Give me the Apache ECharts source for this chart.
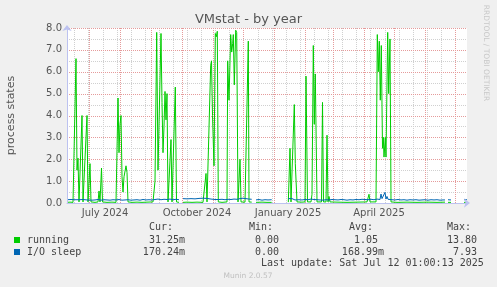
<!DOCTYPE html>
<html><head><meta charset="utf-8">
<script src="https://cdn.jsdelivr.net/npm/echarts@6/dist/echarts.min.js"></script>
<style>html,body{margin:0;padding:0;background:#f0f0f0}#c{width:497px;height:287px}</style>
</head><body><div id="c"></div>
<script>
// x values: days since start of the 400-day window (window starts ~9 Jun 2024)
const chartTitle = 'VMstat - by year';
const yName = 'process states';
const monthStartDays = [22,53,84,115,146,176,207,238,266,297,327,358,388];
const xLabelDays = [38, 130, 221, 312];
const xLabels = ['July 2024','October 2024','January 2025','April 2025'];
const running = [
[0,0.03],[3,0.04],[6,0.03],[8,0.05],[9,6.6],[10,1.5],[11,2.05],[12,0.05],[13,0.05],[15,4.0],[16,0.05],[17,0.05],[20,4.0],[21,0.05],[22,0.05],[23,1.8],[24,0.05],[28,0.03],[31,0.05],[32,0.55],[33,0.05],[34.5,1.6],[35.5,0.05],[40,0.03],[45,0.04],[49,0.03],[50,0.05],[51,4.8],[52,2.3],[53,3.6],[54,4.0],[55,1.2],[56,0.5],[57,1.2],[59,1.7],[60,1.4],[61,0.05],[65,0.03],[70,0.04],[75,0.03],[80,0.04],[86,0.05],[88,1.0],[89.7,7.8],[91,1.5],[94,7.75],[95,4.6],[96,2.3],[97,3.5],[98,5.1],[99,3.8],[100,5.0],[101,0.05],[102,0.05],[104,2.9],[105,0.05],[107,0.05],[108.3,5.3],[109.5,0.05],[112,0.03],[113,null],[116,0.03],[120,0.04],[125,0.03],[130,0.04],[136,0.03],[138,0.05],[139,1.35],[140,0.05],[142,0.05],[143.7,6.3],[144.5,6.5],[145.5,4.0],[147,1.7],[148.3,7.75],[149.3,7.6],[150.3,7.85],[151.3,0.05],[155,0.03],[160,0.05],[160.7,6.5],[162,4.7],[163.7,7.7],[164.7,6.9],[165.7,7.3],[166.3,7.7],[167.3,5.4],[168.7,7.9],[169.7,7.8],[171,0.05],[172,0.05],[173,2.0],[174,0.05],[178,0.04],[180,0.05],[181.3,7.4],[182,0.05],[184.7,0.04],[185,null],[189,0.03],[195,0.04],[200,0.03],[204.7,0.03],[205,null],[221.3,0.04],[222,0.05],[223,2.5],[224,0.05],[226,0.05],[227.3,4.5],[228.3,1.8],[229,1.85],[230,0.05],[235,0.04],[238,0.05],[239,5.8],[240.5,0.05],[244,0.05],[245,0.4],[246.3,7.2],[247.3,3.6],[248.3,5.9],[250,0.05],[254.5,0.05],[255.5,4.6],[256.5,0.05],[259,0.05],[260,3.1],[261,0.05],[262,0.3],[263,0.05],[270,0.04],[280,0.03],[290,0.04],[300,0.05],[302,0.4],[303,0.05],[309,0.05],[310.3,7.7],[311.3,6.0],[312.3,7.4],[313.3,4.7],[314.3,7.2],[315.5,2.5],[316.3,3.0],[317,2.1],[318.3,3.0],[319,2.1],[320.7,7.8],[321.7,5.0],[323,7.5],[324,0.05],[330,0.03],[340,0.04],[350,0.03],[360,0.04],[370,0.03],[378,0.04],[378.5,null],[381,0.03],[384,0.03],[384.5,null],[397,0.03],[400,0.03]
];
const ioSleep = [
[0,0.15],[2,0.13],[4,0.16],[6,0.14],[8,0.15],[10,0.12],[12,0.15],[14,0.14],[16,0.16],[18,0.13],[20,0.14],[22,0.15],[25,0.13],[28,0.14],[31,0.16],[34,0.13],[37,0.15],[40,0.14],[43,0.13],[46,0.15],[49,0.14],[52,0.16],[55,0.13],[58,0.14],[61,0.15],[64,0.13],[67,0.14],[70,0.15],[73,0.13],[76,0.16],[79,0.14],[82,0.15],[85,0.14],[88,0.16],[91,0.18],[94,0.15],[97,0.17],[100,0.16],[103,0.18],[106,0.15],[109,0.17],[112,0.15],[113,null],
[116,0.2],[118,0.22],[120,0.19],[122,0.21],[124,0.2],[126,0.22],[128,0.19],[130,0.2],[132,0.21],[134,0.19],[136,0.22],[138,0.2],[140,0.21],[142,0.19],[144,0.18],[146,0.17],[148,0.16],[150,0.18],[152,0.16],[155,0.17],[158,0.15],[161,0.17],[164,0.16],[167,0.18],[170,0.17],[173,0.2],[176,0.22],[179,0.2],[182,0.18],[184.7,0.17],[185,null],
[189,0.14],[192,0.16],[195,0.13],[198,0.15],[201,0.14],[204.7,0.15],[205,null],
[221.3,0.2],[223,0.22],[225,0.2],[226,0.12],[228,0.14],[230,0.13],[232,0.15],[235,0.14],[238,0.16],[241,0.15],[244,0.18],[247,0.16],[250,0.15],[253,0.14],[256,0.13],[259,0.15],[262,0.14],[265,0.16],[268,0.15],[271,0.14],[274,0.16],[277,0.15],[280,0.13],[283,0.15],[286,0.14],[289,0.16],[292,0.15],[295,0.17],[298,0.16],[301,0.15],[304,0.17],[307,0.15],[310,0.18],[312,0.22],[313,0.16],[314,0.41],[315,0.2],[316,0.28],[317,0.16],[318,0.49],[319,0.18],[320,0.3],[321,0.17],[323,0.2],[325,0.15],[328,0.14],[331,0.16],[334,0.14],[337,0.15],[340,0.13],[343,0.15],[346,0.14],[349,0.15],[352,0.13],[355,0.14],[358,0.15],[361,0.13],[364,0.15],[367,0.14],[370,0.15],[373,0.13],[376,0.14],[378,0.14],[378.5,null],
[381,0.15],[384,0.14],[384.5,null],[397,0.15],[400,0.15]
];
const legendNames = ['running','I/O sleep'];
const legendColors = ['#00cc00','#0066b3'];
const legendCur = ['31.25m','170.24m'];
const legendMin = ['0.00 ','0.00 '];
const legendAvg = ['1.05 ','168.99m'];
const legendMax = ['13.80','7.93'];
const lastUpdate = 'Last update: Sat Jul 12 01:00:13 2025';
const footer = 'Munin 2.0.57';
const sideText = 'RRDTOOL / TOBI OETIKER';

// grid-line positions (layout only)
const minorDays = [];
for (let d = 7.3; d < 400; d += 14.1) minorDays.push(Math.round(d));
const yMajor = [1,2,3,4,5,6,7,8];
const yMinor = [0.5,1.5,2.5,3.5,4.5,5.5,6.5,7.5];

const axisColor = '#bcc2f0';
const red = '#e59b9b';
const grey = '#d0d0d0';
const txt = '#555';
const mono = '10px "DejaVu Sans Mono"';

const chart = echarts.init(document.getElementById('c'), null, {renderer: 'canvas'});
const texts = [
  {type:'text', x:248.5, y:19.5, style:{text:chartTitle, font:'13px "DejaVu Sans"', fill:txt, textAlign:'center', textVerticalAlign:'middle'}},
  {type:'text', x:486, y:53, rotation:-Math.PI/2, style:{text:sideText, font:'7.5px "DejaVu Sans"', fill:'#c8c8c8', textAlign:'center', textVerticalAlign:'middle'}},
  {type:'text', x:149, y:227, style:{text:'Cur:', font:mono, fill:'#444', textVerticalAlign:'middle'}},
  {type:'text', x:249, y:227, style:{text:'Min:', font:mono, fill:'#444', textVerticalAlign:'middle'}},
  {type:'text', x:349, y:227, style:{text:'Avg:', font:mono, fill:'#444', textVerticalAlign:'middle'}},
  {type:'text', x:447, y:227, style:{text:'Max:', font:mono, fill:'#444', textVerticalAlign:'middle'}},
  {type:'text', x:261, y:263, style:{text:lastUpdate, font:mono, fill:'#444', textVerticalAlign:'middle'}},
  {type:'text', x:248, y:276, style:{text:footer, font:'7.5px "DejaVu Sans"', fill:'#c0c0c0', textAlign:'center', textVerticalAlign:'middle'}}
];
legendNames.forEach((n, i) => {
  const y = 240 + i * 12;
  texts.push({type:'rect', shape:{x:14, y:y-3, width:6, height:6}, style:{fill:legendColors[i]}});
  texts.push({type:'text', x:27, y:y, style:{text:n, font:mono, fill:'#444', textVerticalAlign:'middle'}});
  texts.push({type:'text', x:185, y:y, style:{text:legendCur[i], font:mono, fill:'#444', textAlign:'right', textVerticalAlign:'middle'}});
  texts.push({type:'text', x:285, y:y, style:{text:legendMin[i], font:mono, fill:'#444', textAlign:'right', textVerticalAlign:'middle'}});
  texts.push({type:'text', x:384, y:y, style:{text:legendAvg[i], font:mono, fill:'#444', textAlign:'right', textVerticalAlign:'middle'}});
  texts.push({type:'text', x:477, y:y, style:{text:legendMax[i], font:mono, fill:'#444', textAlign:'right', textVerticalAlign:'middle'}});
});

const option = {
  animation: false,
  backgroundColor: '#f0f0f0',
  textStyle: {fontFamily: '"DejaVu Sans"'},
  grid: {left:67, top:28, width:400, height:175, show:true, backgroundColor:'#ffffff', borderWidth:0, containLabel:false, outerBoundsMode:'none'},
  xAxis: [
    {type:'value', min:0, max:400, position:'bottom', z:6,
     axisLine:{show:true, lineStyle:{color:axisColor, width:1}, symbol:['none','arrow'], symbolSize:[7,6], symbolOffset:[0,3]},
     axisTick:{show:false, customValues:xLabelDays},
     axisLabel:{customValues:xLabelDays, interval:0, formatter:(v)=>xLabels[xLabelDays.indexOf(v)], fontSize:10, color:txt, margin:5},
     splitLine:{show:false}}
  ],
  yAxis: [
    {type:'value', min:0, max:8, interval:1, position:'left', z:6,
     name:yName, nameLocation:'middle', nameGap:50, nameTextStyle:{fontSize:11, color:txt},
     axisLine:{show:true, lineStyle:{color:axisColor, width:1}, symbol:['none','arrow'], symbolSize:[7,6], symbolOffset:[0,3]},
     axisTick:{show:false},
     axisLabel:{formatter:(v)=>v.toFixed(1), fontSize:10, color:txt, margin:5},
     splitLine:{show:false}}
  ],
  series: [
    {name:'running', type:'line', xAxisIndex:0, yAxisIndex:0, data:running, symbol:'none', connectNulls:false,
     lineStyle:{color:'#00cc00', width:1}, itemStyle:{color:'#00cc00'}, z:4},
    {name:'I/O sleep', type:'line', xAxisIndex:0, yAxisIndex:0, data:ioSleep, symbol:'none', connectNulls:false,
     lineStyle:{color:'#0066b3', width:1}, itemStyle:{color:'#0066b3'}, z:5}
  ]
};
chart.setOption(option);

// grid lines placed through the chart's own scales
const lines = [];
const y0 = chart.convertToPixel({gridIndex:0}, [0, 0])[1];
const y8 = chart.convertToPixel({gridIndex:0}, [0, 8])[1];
const x0 = chart.convertToPixel({gridIndex:0}, [0, 0])[0];
const x400 = chart.convertToPixel({gridIndex:0}, [400, 0])[0];
function vline(d, color, z) {
  const x = Math.round(chart.convertToPixel({gridIndex:0}, [d, 0])[0]) + 0.5;
  lines.push({type:'line', silent:true, z:z, shape:{x1:x, y1:y0, x2:x, y2:y8}, style:{stroke:color, lineWidth:1, lineDash:[1,1]}});
}
function hline(v, color, z) {
  const y = Math.round(chart.convertToPixel({gridIndex:0}, [0, v])[1]) + 0.5;
  lines.push({type:'line', silent:true, z:z, shape:{x1:x0, y1:y, x2:x400, y2:y}, style:{stroke:color, lineWidth:1, lineDash:[1,1]}});
}
minorDays.forEach(d => vline(d, grey, 1));
yMinor.forEach(v => hline(v, grey, 1));
monthStartDays.forEach(d => vline(d, red, 2));
yMajor.forEach(v => hline(v, red, 2));
chart.setOption({graphic: texts.concat(lines)});
</script></body></html>
